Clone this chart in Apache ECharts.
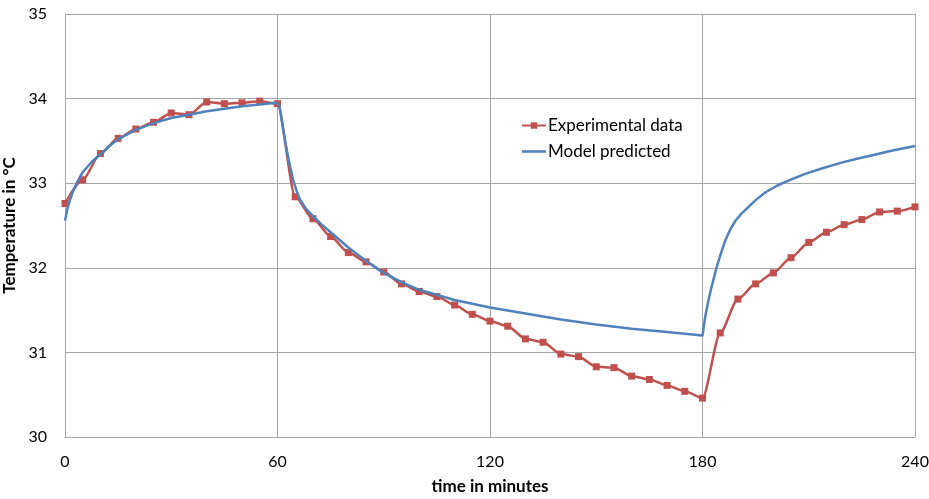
<!DOCTYPE html>
<html>
<head>
<meta charset="utf-8">
<script src="https://cdn.jsdelivr.net/npm/echarts@6/dist/echarts.min.js"></script>
<style>
html,body{margin:0;padding:0;background:#fff;}
#c{width:929px;height:499px;}
</style>
</head>
<body>
<div id="c"></div>
<script>
// Experimental data: time (min) and temperature (°C)
const expTime = [0,5,10,15,20,25,30,35,40,45,50,55,60,65,70,75,80,85,90,95,100,105,110,115,120,125,130,135,140,145,150,155,160,165,170,175,180,185,190,195,200,205,210,215,220,225,230,235,240];
const expTemp = [32.76,33.04,33.35,33.53,33.64,33.72,33.83,33.81,33.96,33.94,33.95,33.97,33.94,32.84,32.58,32.37,32.18,32.07,31.95,31.81,31.72,31.66,31.56,31.45,31.37,31.31,31.16,31.12,30.98,30.95,30.83,30.82,30.72,30.68,30.61,30.54,30.46,31.23,31.63,31.81,31.94,32.12,32.30,32.42,32.51,32.57,32.66,32.67,32.72];

// Model predicted curve, read at sampled times
const modelTime = [0,0.7,1.4,2.3,3.3,5,7.5,10,12.5,15,20,25,30,35,40,45,50,55,59.5,60,60.5,61,61.6,62.3,63,63.7,64.4,65.3,66.3,68,70,72.5,75,80,85,90,95,100,110,120,130,140,150,160,170,180,180.8,181.7,182.4,183.1,183.8,184.6,185.5,186.4,187.8,189.2,191,193,195,197.7,201,204.7,209,214.1,219,223.6,228,233,240];
const modelTemp = [32.56,32.70,32.80,32.91,33.00,33.13,33.25,33.34,33.44,33.52,33.63,33.71,33.77,33.81,33.85,33.88,33.91,33.93,33.95,33.95,33.92,33.80,33.63,33.46,33.31,33.17,33.04,32.92,32.81,32.70,32.61,32.51,32.42,32.24,32.08,31.94,31.83,31.74,31.62,31.53,31.46,31.39,31.33,31.28,31.24,31.20,31.43,31.62,31.75,31.86,31.98,32.09,32.21,32.32,32.45,32.55,32.64,32.72,32.80,32.89,32.97,33.04,33.11,33.18,33.24,33.29,33.33,33.38,33.44];

const xTicks = [0,60,120,180,240];
const yTicks = [30,31,32,33,34,35];

const font = 'Lato, "Open Sans", sans-serif';
const chart = echarts.init(document.getElementById('c'), null, {renderer:'canvas'});
chart.setOption({
  animation:false,
  backgroundColor:'#fff',
  grid:{left:65,right:14,top:14,bottom:62,containLabel:false,outerBoundsMode:'none'},
  legend:{
    orient:'vertical', left:516, top:112, itemGap:9, itemWidth:24, itemHeight:8,
    textStyle:{fontFamily:font,fontSize:17,color:'#000',padding:[0,0,0,-3]},
    data:[
      {name:'Experimental data'},
      {name:'Model predicted', icon:'path://M0,0H24V2.6H0Z'}
    ]
  },
  xAxis:{
    type:'value', min:xTicks[0], max:xTicks[xTicks.length-1], interval:60,
    name:'time in minutes', nameLocation:'middle', nameGap:41,
    nameTextStyle:{fontFamily:font,fontSize:17,fontWeight:'bold',color:'#000'},
    axisLine:{show:true,lineStyle:{color:'#a6a6a6',width:1}},
    axisTick:{show:false},
    axisLabel:{margin:17,fontFamily:font,fontSize:16,color:'#000'},
    splitLine:{show:true,lineStyle:{color:'#a6a6a6',width:1}}
  },
  yAxis:{
    type:'value', min:yTicks[0], max:yTicks[yTicks.length-1], interval:1,
    name:'Temperature in °C', nameLocation:'middle', nameGap:38, nameRotate:90,
    nameTextStyle:{fontFamily:font,fontSize:17,fontWeight:'bold',color:'#000'},
    axisLine:{show:true,lineStyle:{color:'#a6a6a6',width:1}},
    axisTick:{show:false},
    axisLabel:{margin:18,fontFamily:font,fontSize:16,color:'#000'},
    splitLine:{show:true,lineStyle:{color:'#a6a6a6',width:1}}
  },
  series:[
    {
      name:'Experimental data', type:'line',
      data:expTime.map((t,i)=>[t,expTemp[i]]),
      smooth:0.25, smoothMonotone:'x',
      symbol:'rect', symbolSize:7,
      lineStyle:{color:'#C0504D',width:2.5},
      itemStyle:{color:'#C0504D'},
      z:2
    },
    {
      name:'Model predicted', type:'line',
      data:modelTime.map((t,i)=>[t,modelTemp[i]]),
      smooth:false,
      showSymbol:false, symbol:'none',
      lineStyle:{color:'#4F81BD',width:2.5,join:'round'},
      itemStyle:{color:'#4F81BD'},
      z:3
    }
  ]
});
</script>
</body>
</html>
